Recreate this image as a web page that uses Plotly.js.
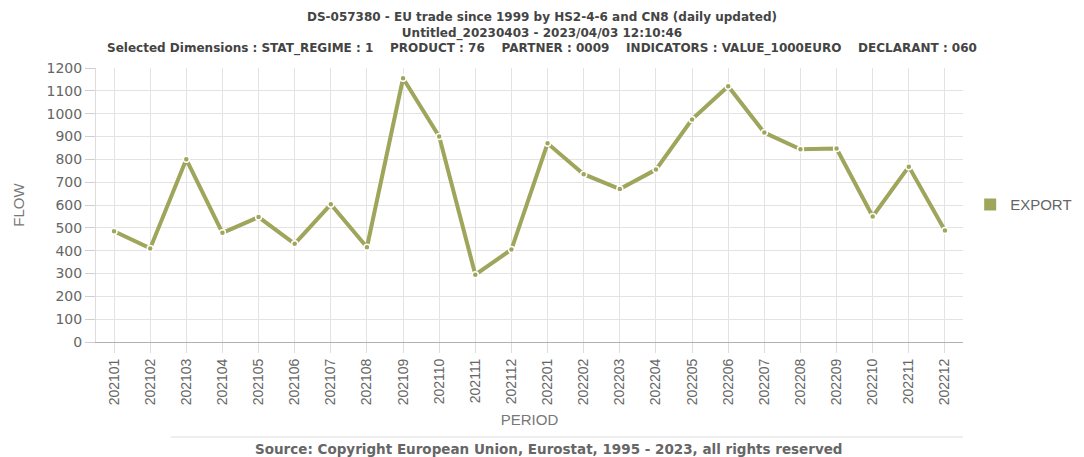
<!DOCTYPE html>
<html>
<head>
<meta charset="utf-8">
<script src="https://cdn.plot.ly/plotly-3.0.1.min.js"></script>
<style>html,body{margin:0;padding:0;background:#fff;}#chart{width:1084px;height:457px;}</style>
</head>
<body>
<div id="chart"></div>
<script>
const periods = ["202101","202102","202103","202104","202105","202106","202107","202108","202109","202110","202111","202112",
                 "202201","202202","202203","202204","202205","202206","202207","202208","202209","202210","202211","202212"];
const exportValues = [485, 410, 800, 478, 547, 430, 603, 415, 1155, 900, 295, 405,
                      870, 735, 670, 755, 975, 1120, 917, 844, 847, 550, 768, 488];
const yTicks = [0,100,200,300,400,500,600,700,800,900,1000,1100,1200];
const seriesName = "EXPORT";
const titleLines = [
  "DS-057380 - EU trade since 1999 by HS2-4-6 and CN8 (daily updated)",
  "Untitled_20230403 - 2023/04/03 12:10:46",
  "Selected Dimensions : STAT_REGIME : 1&nbsp;&nbsp;&nbsp;&nbsp;PRODUCT : 76&nbsp;&nbsp;&nbsp;&nbsp;PARTNER : 0009&nbsp;&nbsp;&nbsp;&nbsp;INDICATORS : VALUE_1000EURO&nbsp;&nbsp;&nbsp;&nbsp;DECLARANT : 060"
];
const sourceText = "Source: Copyright European Union, Eurostat, 1995 - 2023, all rights reserved";

const olive = "#9fa55b";

const traces = [
  {
    type: "scatter", mode: "lines+markers", x: periods, y: exportValues, name: seriesName,
    line: {color: olive, width: 4},
    marker: {color: olive, size: 6, line: {color: "#ffffff", width: 1.5}},
    showlegend: false, cliponaxis: false
  },
  {
    type: "bar", x: [periods[0]], y: [null], name: seriesName,
    marker: {color: olive}, showlegend: true, hoverinfo: "skip"
  }
];

const layout = {
  width: 1084, height: 457,
  margin: {l: 96, r: 121, t: 68, b: 115},
  paper_bgcolor: "#ffffff", plot_bgcolor: "#ffffff",
  font: {family: "Liberation Sans, Arial, sans-serif", color: "#666"},
  title: {
    text: titleLines.join("<br>"),
    font: {family: "DejaVu Sans, sans-serif", size: 12, color: "#444", weight: "bold"},
    x: 0.5, xanchor: "center", xref: "container",
    y: 0.954, yref: "container", yanchor: "top", pad: {t: 0, b: 0}
  },
  xaxis: {
    type: "category", range: [-0.5, periods.length - 0.5],
    tickangle: -90, tickfont: {size: 14, color: "#666", family: "Liberation Sans, Arial, sans-serif"},
    ticks: "outside", ticklen: 10, tickcolor: "#dddddd",
    showgrid: true, gridcolor: "#e3e3e3", gridwidth: 1,
    showline: true, linecolor: "#b0b0b0", linewidth: 1,
    title: {text: "PERIOD", font: {size: 15, color: "#777"}, standoff: 10},
    fixedrange: true
  },
  yaxis: {
    range: [0, 1200], tickvals: yTicks, ticktext: yTicks.map(String),
    tickfont: {size: 14, color: "#666", family: "DejaVu Sans, sans-serif"},
    ticks: "outside", ticklen: 10, tickcolor: "#cfcfcf",
    showgrid: true, gridcolor: "#e3e3e3", gridwidth: 1,
    zeroline: false, showline: true, linecolor: "#dddddd", linewidth: 1,
    title: {text: "FLOW", font: {size: 15, color: "#777"}, standoff: 18},
    fixedrange: true
  },
  legend: {
    xref: "container", yref: "container",
    x: 0.895, xanchor: "left", y: 0.552, yanchor: "middle",
    font: {size: 15, color: "#666"}, bgcolor: "rgba(0,0,0,0)"
  },
  shapes: [
    {type: "line", xref: "paper", yref: "paper", x0: 0.086, x1: 1.0, y0: -0.347, y1: -0.347,
     line: {color: "#eeeeee", width: 2}}
  ],
  annotations: [
    {text: sourceText, xref: "paper", yref: "paper", x: 0.5225, y: -0.39, xanchor: "center", yanchor: "middle",
     showarrow: false,
     font: {family: "DejaVu Sans, sans-serif", size: 13.5, color: "#666", weight: "bold"}}
  ]
};

Plotly.newPlot("chart", traces, layout, {displayModeBar: false, staticPlot: true});
</script>
</body>
</html>
